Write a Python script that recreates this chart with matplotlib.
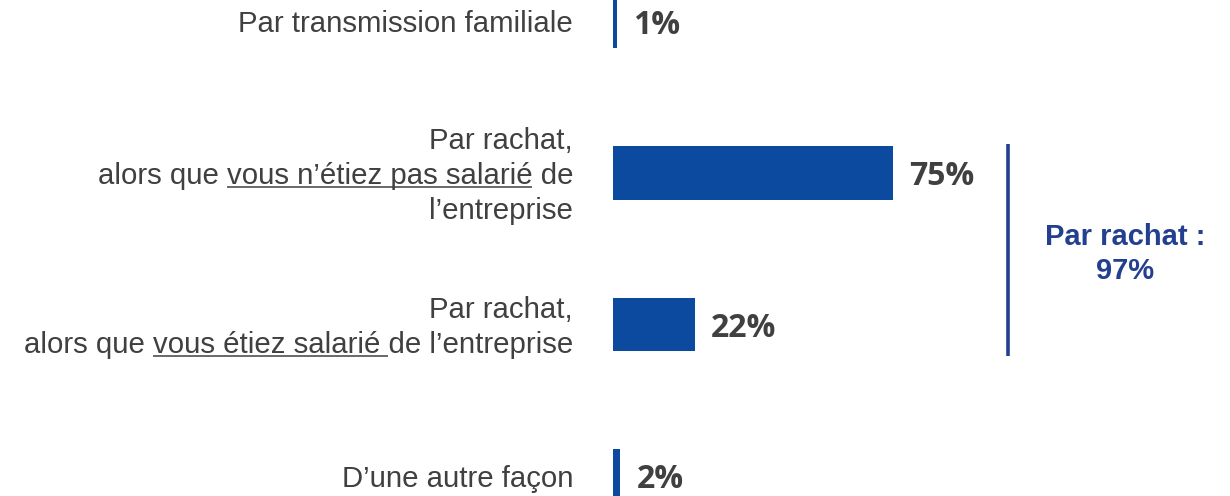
import matplotlib.pyplot as plt

# data
labels = [
    "Par transmission familiale",
    "Par rachat,\nalors que vous n’étiez pas salarié de\nl’entreprise",
    "Par rachat,\nalors que vous étiez salarié de l’entreprise",
    "D’une autre façon",
]
values = [1, 75, 22, 2]
value_text = ["1%", "75%", "22%", "2%"]
underlined = {1: "vous n’étiez pas salarié", 2: "vous étiez salarié "}
group_rows = [1, 2]
group_text = ["Par rachat :", "97%"]

BAR = "#0B4A9E"
GREY = "#404040"
NAVY = "#22408F"

W, H = 1230, 496
fig = plt.figure(figsize=(W / 100, H / 100), dpi=100)

# bar axes (x in %)
px_per_pct = 3.733
x0 = 613
ax = fig.add_axes([x0 / W, 0, (W - x0) / W, 1])
ax.barh(range(len(values)), values, height=0.35, color=BAR)
ax.set_xlim(0, (W - x0) / px_per_pct)
ax.set_ylim(3.132, -0.142)
ax.axis("off")

# overlay in image pixels
ov = fig.add_axes([0, 0, 1, 1], zorder=5)
ov.set_xlim(0, W)
ov.set_ylim(H, 0)
ov.axis("off")
ov.patch.set_alpha(0)

renderer = fig.canvas.get_renderer()


def to_img(xd, yd):
    dx, dy = ax.transData.transform((xd, yd))
    return dx, H - dy


def text_w(s, **kw):
    t = ov.text(0, 0, s, **kw)
    w = t.get_window_extent(renderer).width
    t.remove()
    return w


lab_kw = dict(fontsize=21.2, family="Liberation Sans", color=GREY)
line_gap = 35
x_right = 573

for i, lab in enumerate(labels):
    _, yc = to_img(0, i)
    lines = lab.split("\n")
    n = len(lines)
    for k, line in enumerate(lines):
        yb = yc + (k - (n - 1) / 2) * line_gap + 10.5
        ov.text(x_right, yb, line, ha="right", va="baseline", **lab_kw)
        seg = underlined.get(i)
        if seg and seg in line:
            a = line.index(seg)
            b = a + len(seg)
            left = x_right - text_w(line, **lab_kw)
            wx = text_w("x", **lab_kw)
            xs = left + text_w(line[:a] + "x", **lab_kw) - wx
            xe = left + text_w(line[:b] + "x", **lab_kw) - wx
            ov.plot([xs, xe], [yb + 3.5, yb + 3.5], color=GREY, lw=1.1,
                    solid_capstyle="butt")

# value labels
for i, (v, t) in enumerate(zip(values, value_text)):
    xv, yv = to_img(v, i)
    ov.text(xv + 16, yv + 3.5, t, ha="left", va="center", fontsize=23,
            family="Open Sans", fontweight="bold", color=GREY)

# bracket for the "rachat" group
_, ytop = to_img(0, group_rows[0])
_, ybot = to_img(0, group_rows[-1])
ov.plot([1008, 1008], [ytop - 29, ybot + 31], color=NAVY, lw=2.6,
        solid_capstyle="butt")
ymid = (ytop + ybot) / 2
for k, s in enumerate(group_text):
    ov.text(1125, ymid - 17 + 34 * k + 13, s, ha="center", va="baseline",
            fontsize=21, family="Liberation Sans", fontweight="bold",
            color=NAVY)

fig.savefig("out.png", dpi=100)
